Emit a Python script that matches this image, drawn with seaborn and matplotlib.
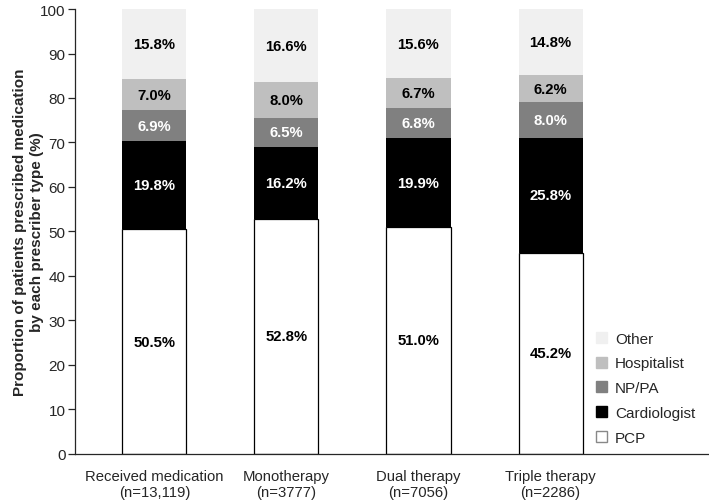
import numpy as np
import matplotlib.pyplot as plt
import seaborn as sns
from matplotlib.patches import Patch

categories = ["Received medication\n(n=13,119)", "Monotherapy\n(n=3777)",
              "Dual therapy\n(n=7056)", "Triple therapy\n(n=2286)"]
segments = ["PCP", "Cardiologist", "NP/PA", "Hospitalist", "Other"]
pcp = [50.5, 52.8, 51.0, 45.2]
cardiologist = [19.8, 16.2, 19.9, 25.8]
np_pa = [6.9, 6.5, 6.8, 8.0]
hospitalist = [7.0, 8.0, 6.7, 6.2]
other = [15.8, 16.6, 15.6, 14.8]

colors = ["#ffffff", "#000000", "#808080", "#bfbfbf", "#f0f0f0"]
text_colors = ["black", "white", "white", "black", "black"]

sns.set_style("ticks")
plt.rcParams['font.family'] = ['Liberation Sans', 'DejaVu Sans']

fig, ax = plt.subplots(figsize=(7.09, 5.02), dpi=100)

# stacked bars, one barplot call per prescriber type
bottom = np.zeros(len(categories))
for seg, vals, col, tcol in zip(segments, [pcp, cardiologist, np_pa, hospitalist, other],
                                colors, text_colors):
    vals = np.array(vals)
    sns.barplot(x=categories, y=vals, bottom=bottom, color=col, width=0.485,
                edgecolor="black" if seg == "PCP" else "none",
                linewidth=0.9 if seg == "PCP" else 0, saturation=1, ax=ax)
    for i, v in enumerate(vals):
        ax.text(i, bottom[i] + v / 2, f"{v:.1f}%", ha="center", va="center",
                fontsize=10.7, fontweight="bold", color=tcol)
    bottom = bottom + vals

ax.set_xlim(-0.6, 4.2)
ax.set_ylim(0, 100)
ax.set_yticks(range(0, 101, 10))
ax.tick_params(axis="y", labelsize=11, length=5, width=0.9, pad=2)
ax.tick_params(axis="x", labelsize=10.7, length=0, pad=11)
ax.set_ylabel("Proportion of patients prescribed medication\nby each prescriber type (%)",
              fontsize=11, fontweight="bold", linespacing=1.25)
ax.yaxis.set_label_coords(-0.049, 0.5)
ax.set_xlabel("")
sns.despine(ax=ax)
for sp in ["left", "bottom"]:
    ax.spines[sp].set_linewidth(0.9)

handles = [Patch(facecolor=c, edgecolor="#888888" if s == "PCP" else c, label=s)
           for s, c in zip(segments, colors)][::-1]
ax.legend(handles=handles, loc="lower right", bbox_to_anchor=(1.0, -0.01), frameon=False,
          fontsize=11, handlelength=0.75, handleheight=0.75, labelspacing=0.7,
          handletextpad=0.5)

plt.subplots_adjust(left=0.106, right=1.0, top=0.98, bottom=0.094)
plt.savefig("out.png", dpi=100)
